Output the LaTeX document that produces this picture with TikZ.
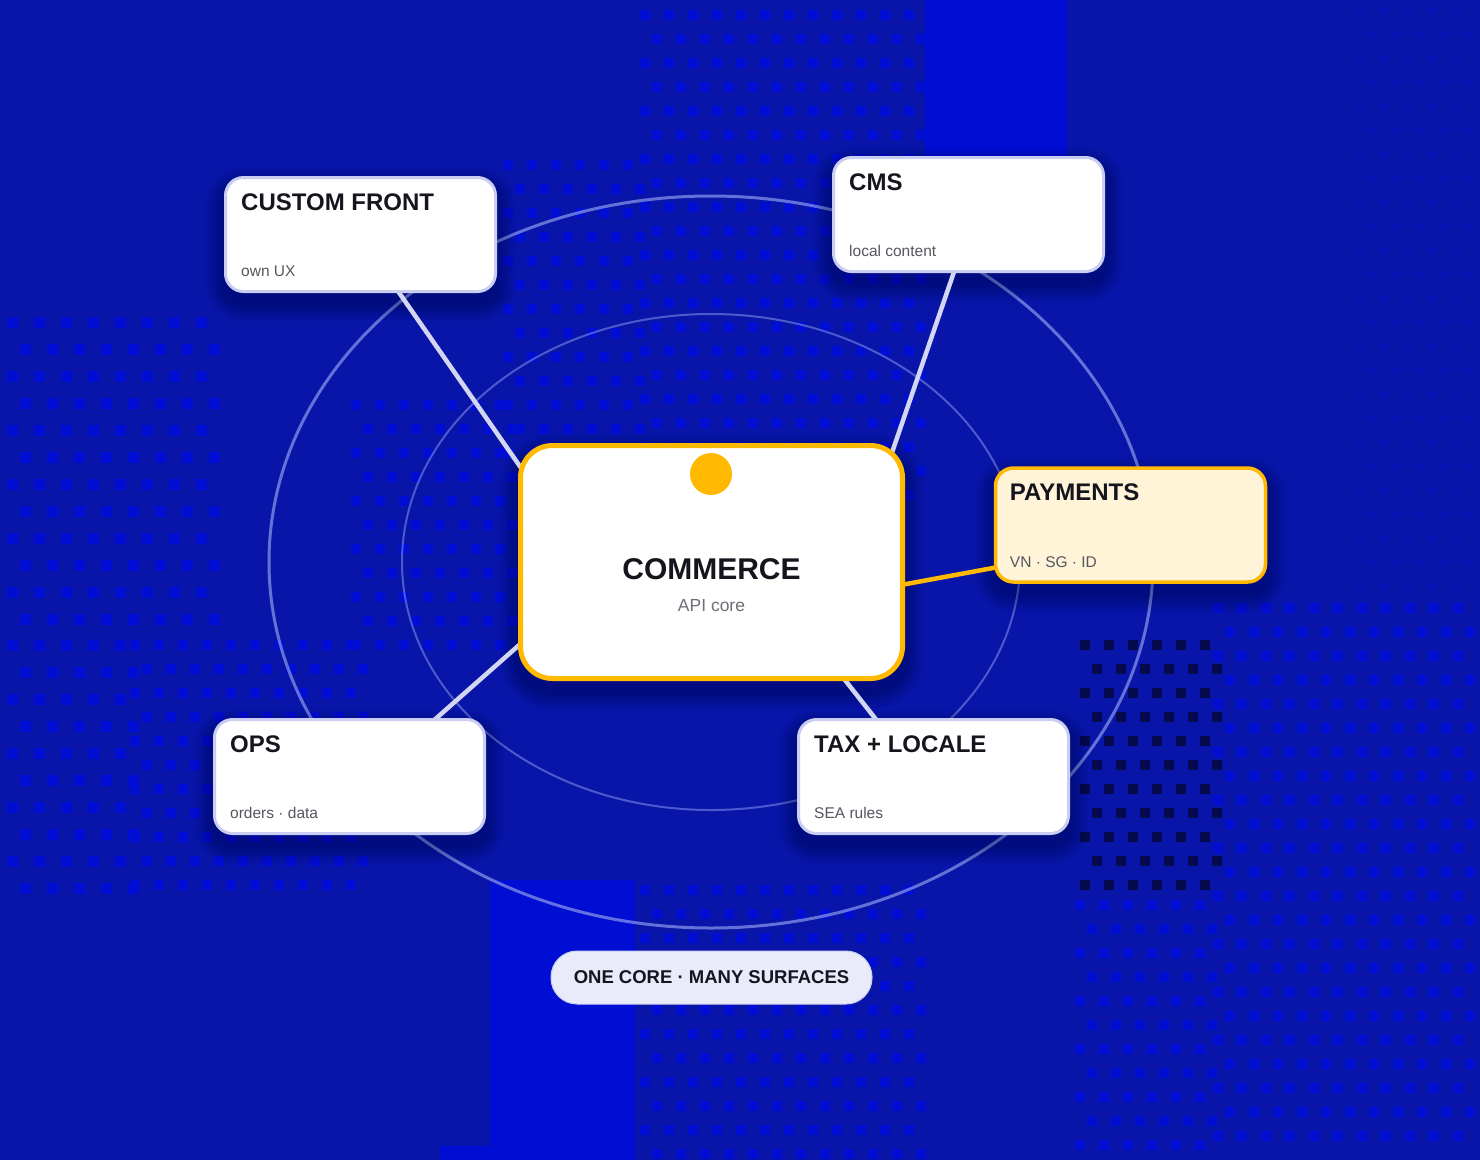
\documentclass[tikz,border=0pt]{standalone}
\usepackage{fontspec}
\setmainfont{Liberation Sans}
\usetikzlibrary{calc}
\definecolor{bgbase}{HTML}{0815A8}
\definecolor{bgbright}{HTML}{000DD2}
\definecolor{bgdark}{HTML}{050A4C}
\definecolor{boxline}{HTML}{C9CDF2}
\definecolor{orng}{HTML}{FFB900}
\definecolor{cream}{HTML}{FFF4D8}
\definecolor{ink}{HTML}{15151E}
\definecolor{subink}{HTML}{55565F}
\definecolor{linkc}{HTML}{D3D6F2}
\definecolor{ringc}{HTML}{7C88E6}
\definecolor{pillfill}{HTML}{E9EBFA}
\pgfdeclarelayer{bg}\pgfdeclarelayer{mid}\pgfdeclarelayer{lines}
\pgfsetlayers{bg,mid,lines,main}
\newcommand\dotgrid[7]{%
  \foreach \j in {0,...,#4}{%
    \pgfmathsetmacro\dgoff{mod(\j,2)*#5/2}%
    \foreach \i in {0,...,#3}{%
      \fill[#7] ({#1+\i*#5+\dgoff-#6/2},{#2+\j*#5-#6/2}) rectangle ++(#6,#6);
    }%
  }%
}
\newcommand\boxshadow[2]{%
  \foreach \s in {2,4,...,18}{%
    \pgfmathsetmacro\shr{#2+\s}%
    \fill[black,opacity=0.028,rounded corners=\shr pt] ($(#1.south west)+(-\s,{\s+10})$) rectangle ($(#1.north east)+(\s,{-\s+10})$);
  }%
}
\begin{document}
\begin{tikzpicture}[x=1pt,y=-1pt,
  surf/.style={draw=boxline,line width=3pt,fill=white,rounded corners=18pt,minimum width=270pt,minimum height=114pt,inner sep=0pt},
  hot/.style={surf,draw=orng,fill=cream,line width=3.5pt},
  ttl/.style={anchor=base west,inner sep=0pt,text=ink,font=\fontsize{24}{28}\selectfont\bfseries},
  sub/.style={anchor=base west,inner sep=0pt,text=subink,font=\fontsize{15.5}{18}\selectfont},
  link/.style={draw=linkc,line width=4.5pt},
  hotlink/.style={draw=orng,line width=4.5pt},
]
\useasboundingbox (0,0) rectangle (1480,1160);
\begin{pgfonlayer}{bg}
\fill[bgbase] (0,0) rectangle (1480,1160);
\fill[bgbright] (925,0) rectangle (1067,250);
\fill[bgbright] (490,880) rectangle (635,1160);
\fill[bgbright] (440,1146) rectangle (490,1160);
\dotgrid{645}{15}{11}{20}{24}{10}{bgbright}
\dotgrid{508}{165}{5}{12}{24}{10}{bgbright}
\dotgrid{356}{405}{6}{10}{24}{10}{bgbright}
\dotgrid{12}{322}{7}{11}{27}{11}{bgbright}
\dotgrid{12}{645}{4}{9}{27}{11}{bgbright}
\dotgrid{135}{645}{9}{10}{24}{10}{bgbright}
\dotgrid{645}{890}{11}{11}{24}{10}{bgbright}
\dotgrid{1218}{608}{10}{22}{24}{10}{bgbright}
\dotgrid{1080}{905}{5}{10}{24}{10}{bgbright}
\dotgrid{1085}{645}{5}{10}{24}{10}{bgdark}
\dotgrid{1360}{10}{4}{24}{24}{7}{bgbright!30!bgbase}
\end{pgfonlayer}

% nodes
\node[surf] (cf) at (360.5,234.5) {};
\node[surf] (cms) at (968.5,214.5) {};
\node[hot] (pay) at (1130.5,525) {};
\node[surf] (ops) at (349.5,776.5) {};
\node[surf] (tax) at (933.5,776.5) {};
\node[draw=orng,line width=5pt,fill=white,rounded corners=32pt,minimum width=382pt,minimum height=233pt,inner sep=0pt] (core) at (711.5,562) {};
\node[circle,fill=orng,minimum size=42pt,inner sep=0pt] (coredot) at (711,474) {};

\node[anchor=base,inner sep=0pt,text=ink,font=\fontsize{30}{34}\selectfont\bfseries] (coret) at ($(core.center)+(0,17)$) {COMMERCE};
\node[anchor=base,inner sep=0pt,text=subink!85,font=\fontsize{17.5}{20}\selectfont] (cores) at ($(core.center)+(0,49.5)$) {API core};

\node[ttl] (cft) at ($(cf.north west)+(17,34)$) {CUSTOM FRONT};
\node[sub] (cfs) at ($(cf.south west)+(17,-16.5)$) {own UX};
\node[ttl] (cmst) at ($(cms.north west)+(17,34)$) {CMS};
\node[sub] (cmss) at ($(cms.south west)+(17,-16.5)$) {local content};
\node[ttl] (payt) at ($(pay.north west)+(16,34)$) {PAYMENTS};
\node[sub] (pays) at ($(pay.south west)+(16,-16.5)$) {VN · SG · ID};
\node[ttl] (opst) at ($(ops.north west)+(17,34)$) {OPS};
\node[sub] (opss) at ($(ops.south west)+(17,-16.5)$) {orders · data};
\node[ttl] (taxt) at ($(tax.north west)+(17,34)$) {TAX + LOCALE};
\node[sub] (taxs) at ($(tax.south west)+(17,-16.5)$) {SEA rules};

\node[fill=pillfill,draw=boxline,line width=1pt,rounded corners=26pt,minimum width=321pt,minimum height=53pt,inner sep=0pt,text=ink,font=\fontsize{18.5}{22}\selectfont\bfseries] (pill) at (711.5,977.5) {ONE CORE · MANY SURFACES};

\begin{pgfonlayer}{mid}
\draw[ringc,line width=3pt,opacity=0.8] (711,562) ellipse [x radius=442,y radius=366];
\draw[ringc,line width=2pt,opacity=0.6] (711,562) ellipse [x radius=309,y radius=248];
\boxshadow{cf}{18}
\boxshadow{cms}{18}
\boxshadow{pay}{18}
\boxshadow{ops}{18}
\boxshadow{tax}{18}
\boxshadow{core}{32}
\end{pgfonlayer}

\begin{pgfonlayer}{lines}
\draw[link] ($(cf.south)+(36,-4)$) -- ($(core.north west)+(17,45)$);
\draw[link] ($(cms.south)+(-13.5,-4)$) -- ($(core.north east)+(-19,27)$);
\draw[hotlink] ($(pay.south west)+(6,-17)$) -- ($(core.east)+(-15,25)$);
\draw[link] ($(ops.north)+(82.5,4)$) -- ($(core.west)+(17,69)$);
\draw[link] ($(tax.north)+(-55.5,4)$) -- ($(core.south)+(124,-13)$);
\end{pgfonlayer}
\end{tikzpicture}
\end{document}
